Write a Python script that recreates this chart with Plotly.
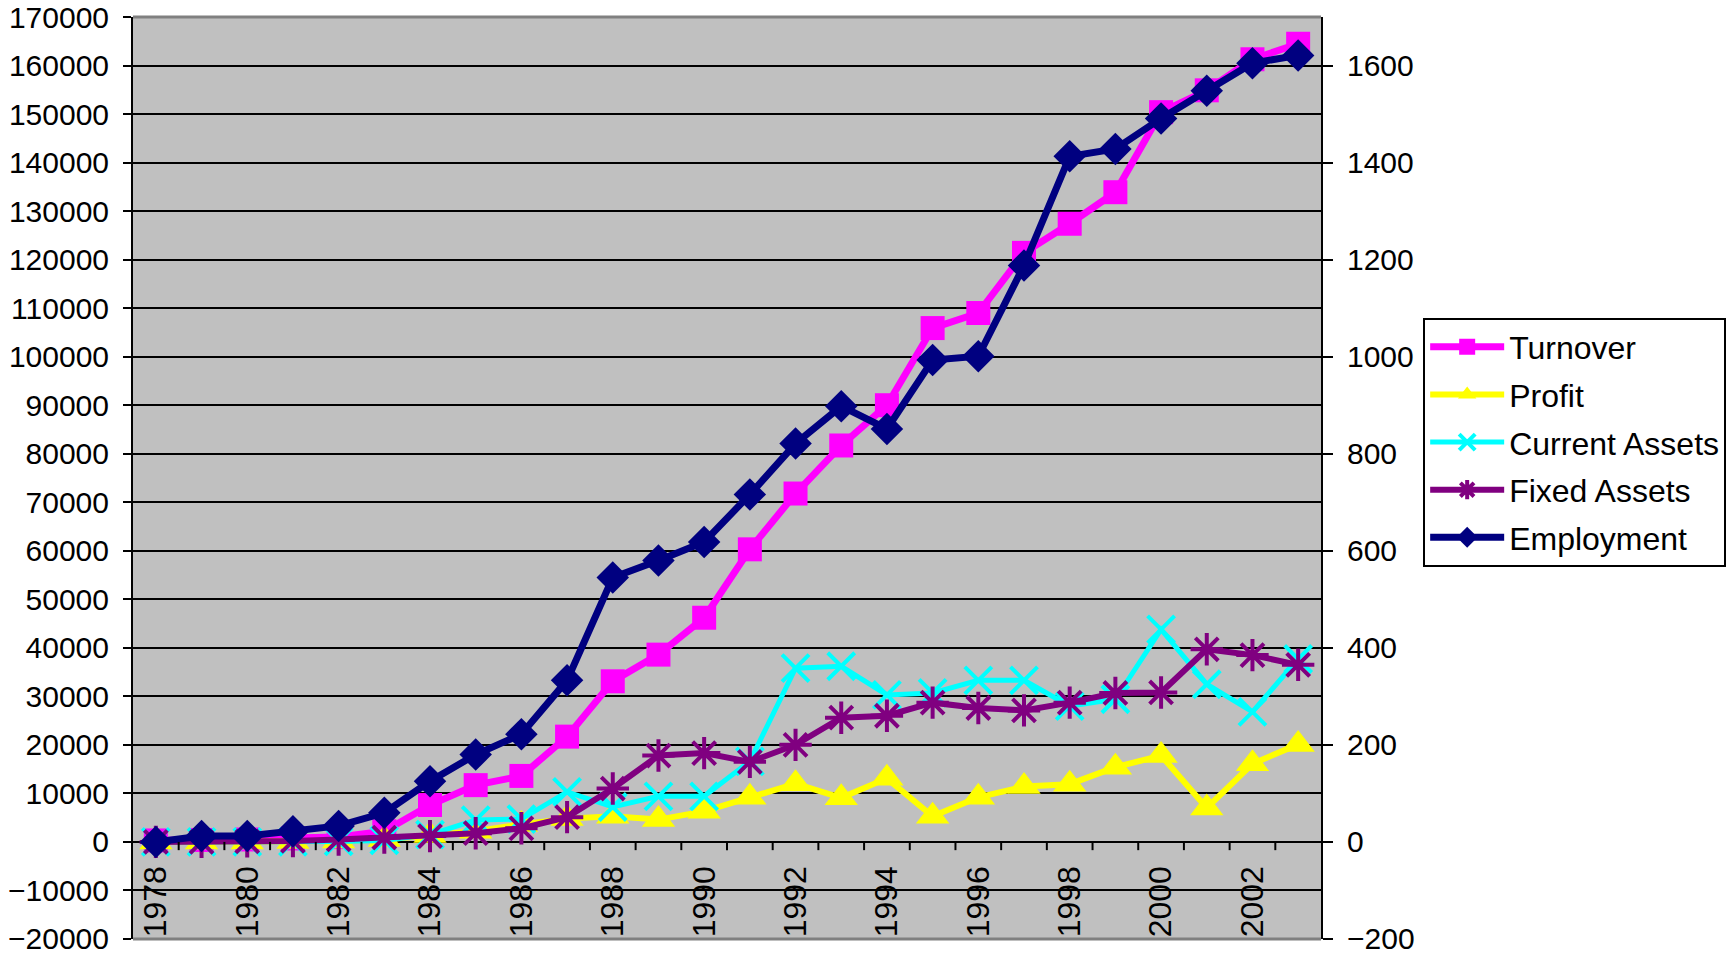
import plotly.graph_objects as go

years = list(range(1978, 2004))

turnover = [300, 400, 500, 700, 1000, 2200, 7600, 11700, 13600, 21700, 33100, 38600, 46200,
            60300, 71800, 81700, 90000, 105900, 109000, 121400, 127400, 133900, 150400,
            154900, 161300, 164500]
profit = [0, 0, 0, 100, 200, 500, 1300, 2200, 3600, 4800, 5300, 4600, 6300, 9200, 12000,
          9100, 13100, 5300, 9200, 11400, 11900, 15400, 17800, 7000, 16100, 20100]
current_assets = [0, 0, 0, 0, 100, 300, 1500, 4500, 4700, 10300, 7200, 9400, 9400, 16600,
                  35800, 36200, 30300, 30700, 33300, 33300, 28000, 29400, 43800, 32500,
                  26800, 37700]
fixed_assets = [0, 0, 100, 200, 500, 900, 1200, 1800, 2800, 5100, 11000, 17800, 18300, 16500,
                20000, 25600, 26000, 28700, 27600, 27100, 28700, 30700, 30800, 39700, 38500,
                36500]
employment = [0, 12, 12, 22, 33, 60, 125, 180, 222, 333, 545, 580, 618, 716, 821, 898, 851,
              993, 1001, 1188, 1413, 1428, 1491, 1548, 1605, 1621]

FONT = "Liberation Sans, Arial, sans-serif"
FS = 32
TICK_FS = 30

fig = go.Figure()
fig.add_trace(go.Scatter(
    x=years, y=turnover, name="Turnover", legendgroup="a", mode="lines+markers",
    line=dict(color="#FF00FF", width=7),
    marker=dict(symbol="square", size=24, color="#FF00FF"),
))
fig.add_trace(go.Scatter(
    x=years, y=profit, name="Profit", legendgroup="b", mode="lines+markers",
    line=dict(color="#FFFF00", width=6),
    marker=dict(symbol="triangle-up", size=29, color="#FFFF00"),
))
fig.add_trace(go.Scatter(
    x=years, y=current_assets, name="Current Assets", legendgroup="c", mode="lines+markers",
    line=dict(color="#00FFFF", width=5),
    marker=dict(symbol="x-thin-open", size=27, color="#00FFFF",
                line=dict(color="#00FFFF", width=4)),
))
fig.add_trace(go.Scatter(
    x=years, y=fixed_assets, name="Fixed Assets", legendgroup="d", mode="lines+markers",
    line=dict(color="#800080", width=6),
    marker=dict(symbol="asterisk-open", size=27, color="#800080",
                line=dict(color="#800080", width=4)),
))
fig.add_trace(go.Scatter(
    x=years, y=employment, name="Employment", legendgroup="e", mode="lines+markers",
    yaxis="y2",
    line=dict(color="#000080", width=7),
    marker=dict(symbol="diamond", size=25, color="#000080"),
))

# short tick marks hanging from the zero line at every category boundary
boundaries = [y - 0.5 for y in years] + [years[-1] + 0.5]
tick_marks = [
    dict(type="line", xref="x", yref="y", x0=b, x1=b, y0=0, y1=-1700,
         line=dict(color="black", width=2), layer="above")
    for b in boundaries[1:-1]
]
frame = [
    dict(type="line", xref="paper", yref="paper", x0=0, x1=1, y0=1, y1=1,
         line=dict(color="#808080", width=3), layer="above"),
    dict(type="line", xref="paper", yref="paper", x0=0, x1=1, y0=0, y1=0,
         line=dict(color="#808080", width=3), layer="above"),
]

fig.update_layout(
    width=1733, height=956,
    paper_bgcolor="white",
    plot_bgcolor="#C0C0C0",
    font=dict(family=FONT, size=FS, color="black"),
    margin=dict(l=133, r=412, t=17, b=17, autoexpand=False),
    showlegend=True,
    legend=dict(
        x=1.086, y=0.674, xanchor="left", yanchor="top",
        bgcolor="white", bordercolor="black", borderwidth=2,
        font=dict(family=FONT, size=FS, color="black"),
        itemwidth=74, tracegroupgap=3,
    ),
    xaxis=dict(
        range=[1977.5, 2003.5], tickvals=years[::2], ticktext=[str(y) for y in years[::2]],
        tickangle=-90, anchor="free", position=0.087, ticks="", showgrid=False,
        zeroline=False, showline=False, tickfont=dict(size=FS), automargin=False,
    ),
    yaxis=dict(
        range=[-20010, 170010], tick0=0, dtick=10000, tickformat="d",
        showgrid=True, gridcolor="black", gridwidth=2, zeroline=False,
        showline=True, linecolor="black", linewidth=2,
        ticks="outside", ticklen=8, tickwidth=2, tickcolor="black",
        ticklabelstandoff=8, ticklabeloverflow="allow",
        tickfont=dict(size=TICK_FS), automargin=False,
    ),
    yaxis2=dict(
        overlaying="y", side="right", range=[-200.1, 1700.1], tick0=0, dtick=200,
        tickformat="d",
        showgrid=False, zeroline=False,
        showline=True, linecolor="black", linewidth=2,
        ticks="outside", ticklen=10, tickwidth=2, tickcolor="black",
        ticklabelstandoff=8, ticklabeloverflow="allow",
        tickfont=dict(size=TICK_FS), automargin=False,
    ),
    shapes=tick_marks + frame,
)

fig.write_html("out.html", config={"displayModeBar": False},
               post_script="document.body.style.margin='0px';")
